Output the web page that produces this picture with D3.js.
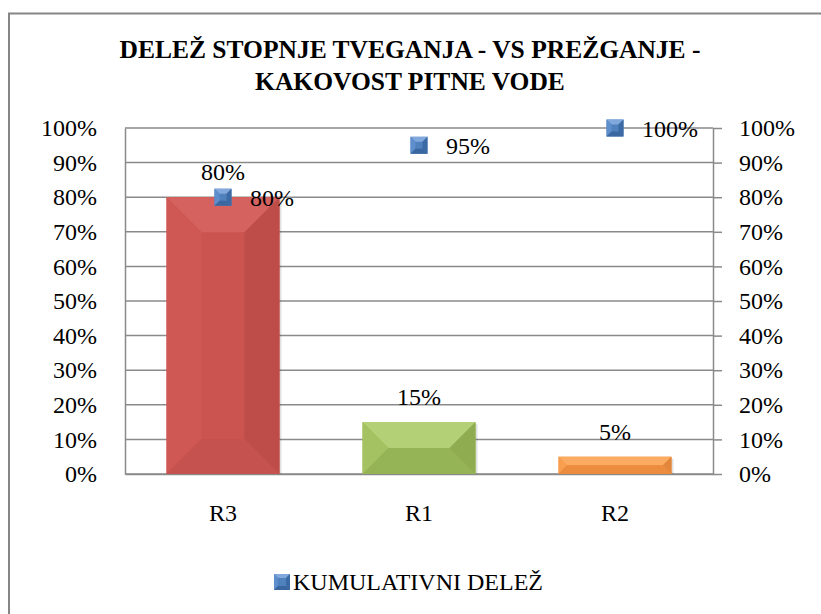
<!DOCTYPE html>
<html>
<head>
<meta charset="utf-8">
<script src="https://cdn.jsdelivr.net/npm/d3@7"></script>
</head>
<body style="margin:0">
<svg id="chart" width="821" height="614"></svg>
<script>
// Risk level shares (bars) and cumulative share (markers)
const categories = ["R3", "R1", "R2"];
const shares = [0.80, 0.15, 0.05];
const cumulative = [0.80, 0.95, 1.00];
const tickValues = [0, 0.1, 0.2, 0.3, 0.4, 0.5, 0.6, 0.7, 0.8, 0.9, 1.0];
const titleLines = ["DELE\u017D STOPNJE TVEGANJA - VS PRE\u017DGANJE -", "KAKOVOST PITNE VODE"];
const legendLabel = "KUMULATIVNI DELE\u017D";

// Bevel palettes per bar: face, top, left, right, bottom
const barPalettes = [
  { face: "#cb5451", top: "#d5625f", left: "#cf5855", right: "#be4d4a", bottom: "#c5524f" },
  { face: "#9dbd5b", top: "#b3d077", left: "#a4c262", right: "#8fad50", bottom: "#95b455" },
  { face: "#f79646", top: "#fbab62", left: "#f89e4e", right: "#e2863b", bottom: "#eb8c3e" }
];
const markerPalette = { face: "#4f81bd", top: "#80a8dc", left: "#5e8ecb", right: "#3c6aa4", bottom: "#3a67a0" };

const svg = d3.select("#chart");
const W = 821, H = 614;
const plot = { left: 125, right: 713, top: 128, bottom: 474 };

// Font faces per text group
const TITLE_FONT = "Times New Roman";
const AXIS_FONT = "serif";
const LABEL_FONT = "Liberation Serif";
const LEGEND_FONT = "Tinos";

function face(sel, family, size, weight) {
  sel.attr("font-family", family).attr("font-size", size);
  if (weight) sel.attr("font-weight", weight);
  return sel;
}

svg.append("rect").attr("width", W).attr("height", H).attr("fill", "#fff");

// Outer chart frame
svg.append("rect")
  .attr("x", 9).attr("y", 13.5)
  .attr("width", 830).attr("height", 620)
  .attr("fill", "none").attr("stroke", "#868686").attr("stroke-width", 2);

// Title (one text element per line)
titleLines.forEach((t, i) => {
  svg.append("text")
    .attr("x", 410).attr("y", 58 + i * 32)
    .attr("text-anchor", "middle")
    .call(face, TITLE_FONT, 25.5, "bold")
    .text(t);
});

const x = d3.scaleBand()
  .domain(categories)
  .range([plot.left, plot.right])
  .paddingInner(0.4235)
  .paddingOuter(0.2117);

const y = d3.scaleLinear().domain([0, 1]).range([plot.bottom, plot.top]);
const pct = d3.format(".0%");

// Gridlines
svg.append("g")
  .selectAll("line")
  .data(tickValues)
  .join("line")
  .attr("x1", plot.left).attr("x2", plot.right)
  .attr("y1", d => y(d)).attr("y2", d => y(d))
  .attr("stroke", "#8a8a8a").attr("stroke-width", 1.5);

function styleAxis(g) {
  g.attr("font-family", AXIS_FONT).attr("font-size", 24);
  g.select(".domain").attr("stroke", "#8a8a8a").attr("stroke-width", 1.5);
  g.selectAll(".tick line").attr("stroke", "#8a8a8a").attr("stroke-width", 1.5);
  g.selectAll("text").attr("fill", "#000");
}

// Left axis
svg.append("g")
  .attr("transform", `translate(${plot.left},0)`)
  .call(d3.axisLeft(y).tickValues(tickValues).tickFormat(pct).tickSize(0).tickPadding(28))
  .call(styleAxis);

// Right axis
svg.append("g")
  .attr("transform", `translate(${plot.right},0)`)
  .call(d3.axisRight(y).tickValues(tickValues).tickFormat(pct).tickSizeInner(9).tickSizeOuter(0).tickPadding(17))
  .call(styleAxis);

// Bottom axis
svg.append("g")
  .attr("transform", `translate(0,${plot.bottom})`)
  .call(d3.axisBottom(x).tickSize(0).tickPadding(30))
  .call(styleAxis);

// Bevelled rectangle: face plus four sloped edges
function bevel(g, x0, y0, w, h, b, pal) {
  g.append("rect").attr("x", x0).attr("y", y0).attr("width", w).attr("height", h).attr("fill", pal.face);
  const pts = {
    top: [[x0, y0], [x0 + w, y0], [x0 + w - b, y0 + b], [x0 + b, y0 + b]],
    left: [[x0, y0], [x0 + b, y0 + b], [x0 + b, y0 + h - b], [x0, y0 + h]],
    right: [[x0 + w, y0], [x0 + w, y0 + h], [x0 + w - b, y0 + h - b], [x0 + w - b, y0 + b]],
    bottom: [[x0, y0 + h], [x0 + w, y0 + h], [x0 + w - b, y0 + h - b], [x0 + b, y0 + h - b]]
  };
  Object.keys(pts).forEach(k => {
    g.append("polygon").attr("points", pts[k].map(p => p.join(",")).join(" ")).attr("fill", pal[k]);
  });
}

// Bars with a soft offset shadow
const bars = svg.append("g");
categories.forEach((c, i) => {
  const x0 = x(c), w = x.bandwidth();
  const y0 = y(shares[i]), h = y(0) - y(shares[i]);
  const g = bars.append("g");
  g.append("rect").attr("x", x0 + 2).attr("y", y0 + 2).attr("width", w).attr("height", h - 2)
    .attr("fill", "#000").attr("opacity", 0.12);
  bevel(g, x0, y0, w, h, Math.min(35, h / 2, w / 2), barPalettes[i]);
});

// Bar value labels
categories.forEach((c, i) => {
  svg.append("text")
    .attr("x", x(c) + x.bandwidth() / 2)
    .attr("y", y(shares[i]) - 17)
    .attr("text-anchor", "middle")
    .call(face, LABEL_FONT, 24)
    .text(pct(shares[i]));
});

// Cumulative markers and their labels
const ms = 17;
categories.forEach((c, i) => {
  const cx = x(c) + x.bandwidth() / 2, cy = y(cumulative[i]);
  bevel(svg.append("g"), cx - ms / 2, cy - ms / 2, ms, ms, 5, markerPalette);
  svg.append("text")
    .attr("x", cx + 27)
    .attr("y", cy + 9)
    .call(face, LABEL_FONT, 24)
    .text(pct(cumulative[i]));
});

// Legend
bevel(svg.append("g"), 274, 574, 16, 16, 4, markerPalette);
svg.append("text").attr("x", 293).attr("y", 590)
  .call(face, LEGEND_FONT, 24)
  .text(legendLabel);
</script>
</body>
</html>
